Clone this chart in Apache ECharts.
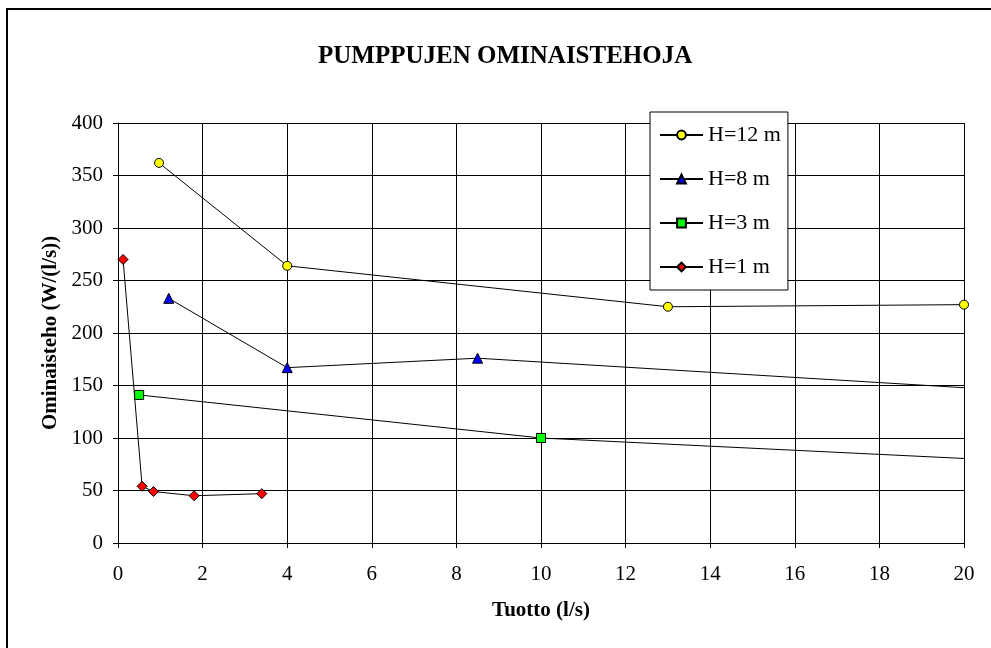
<!DOCTYPE html>
<html>
<head>
<meta charset="utf-8">
<script src="https://cdn.jsdelivr.net/npm/echarts@6/dist/echarts.min.js"></script>
<style>
html,body{margin:0;padding:0;background:#fff;}
#chart{width:991px;height:648px;}
</style>
</head>
<body>
<div id="chart"></div>
<script>
var titleText = 'PUMPPUJEN OMINAISTEHOJA';
var xName = 'Tuotto (l/s)';
var yName = 'Ominaisteho (W/(l/s))';
var seriesNames = ['H=12 m', 'H=8 m', 'H=3 m', 'H=1 m'];
var h12 = [[0.97, 362], [4, 264], [13, 225], [20, 227]];
var h8 = [[1.2, 233], [4, 167], [8.5, 176], [40, 99]];
var h3 = [[0.5, 141], [10, 100], [30, 61]];
var h1 = [[0.12, 270], [0.57, 54], [0.84, 49], [1.8, 45], [3.4, 47]];
var xTicks = {min: 0, max: 20, interval: 2};
var yTicks = {min: 0, max: 400, interval: 50};

var font = '"Liberation Serif", "Times New Roman", serif';
var chart = echarts.init(document.getElementById('chart'), null, {renderer: 'canvas'});

function mk(name, data, symbol, color, size) {
  return {
    name: name, type: 'line', data: data, symbol: symbol, symbolSize: size,
    showAllSymbol: true, clip: true, animation: false,
    lineStyle: {color: '#000', width: 1},
    itemStyle: {color: color, borderColor: '#000', borderWidth: 1}
  };
}

chart.setOption({
  animation: false,
  backgroundColor: '#fff',
  title: {
    text: titleText, left: 318, top: 44, padding: 0,
    textStyle: {fontFamily: font, fontWeight: 'bold', fontSize: 25, color: '#000'}
  },
  graphic: [{
    type: 'rect', silent: true, z: 100,
    shape: {x: 7, y: 9, width: 1100, height: 800},
    style: {fill: 'none', stroke: '#000', lineWidth: 2}
  }],
  legend: {
    data: seriesNames,
    orient: 'vertical',
    left: 650, top: 112,
    backgroundColor: '#fff',
    borderColor: '#000', borderWidth: 1,
    padding: [12, 7, 12, 9],
    itemWidth: 43, itemHeight: 11, itemGap: 22,
    textStyle: {fontFamily: font, fontSize: 22, color: '#000', lineHeight: 22},
    z: 10
  },
  grid: {left: 118, right: 27, top: 123, bottom: 105, containLabel: false},
  xAxis: {
    type: 'value', min: xTicks.min, max: xTicks.max, interval: xTicks.interval,
    name: xName, nameLocation: 'middle', nameGap: 57,
    nameTextStyle: {fontFamily: font, fontWeight: 'bold', fontSize: 21, color: '#000'},
    axisLine: {show: true, lineStyle: {color: '#000', width: 1}},
    axisTick: {show: true, inside: false, length: 5, lineStyle: {color: '#000'}},
    axisLabel: {fontFamily: font, fontSize: 21, color: '#000', margin: 21},
    splitLine: {show: true, lineStyle: {color: '#000', width: 1}}
  },
  yAxis: {
    type: 'value', min: yTicks.min, max: yTicks.max, interval: yTicks.interval,
    name: yName, nameLocation: 'middle', nameGap: 55, nameRotate: 90,
    nameTextStyle: {fontFamily: font, fontWeight: 'bold', fontSize: 21, color: '#000'},
    axisLine: {show: true, lineStyle: {color: '#000', width: 1}},
    axisTick: {show: true, inside: false, length: 5, lineStyle: {color: '#000'}},
    axisLabel: {fontFamily: font, fontSize: 21, color: '#000', margin: 15},
    splitLine: {show: true, lineStyle: {color: '#000', width: 1}}
  },
  series: [
    mk(seriesNames[0], h12, 'circle', '#FFFF00', 9),
    mk(seriesNames[1], h8, 'triangle', '#0000FF', 10),
    mk(seriesNames[2], h3, 'rect', '#00FF00', 9),
    mk(seriesNames[3], h1, 'diamond', '#FF0000', 10)
  ]
});
</script>
</body>
</html>
